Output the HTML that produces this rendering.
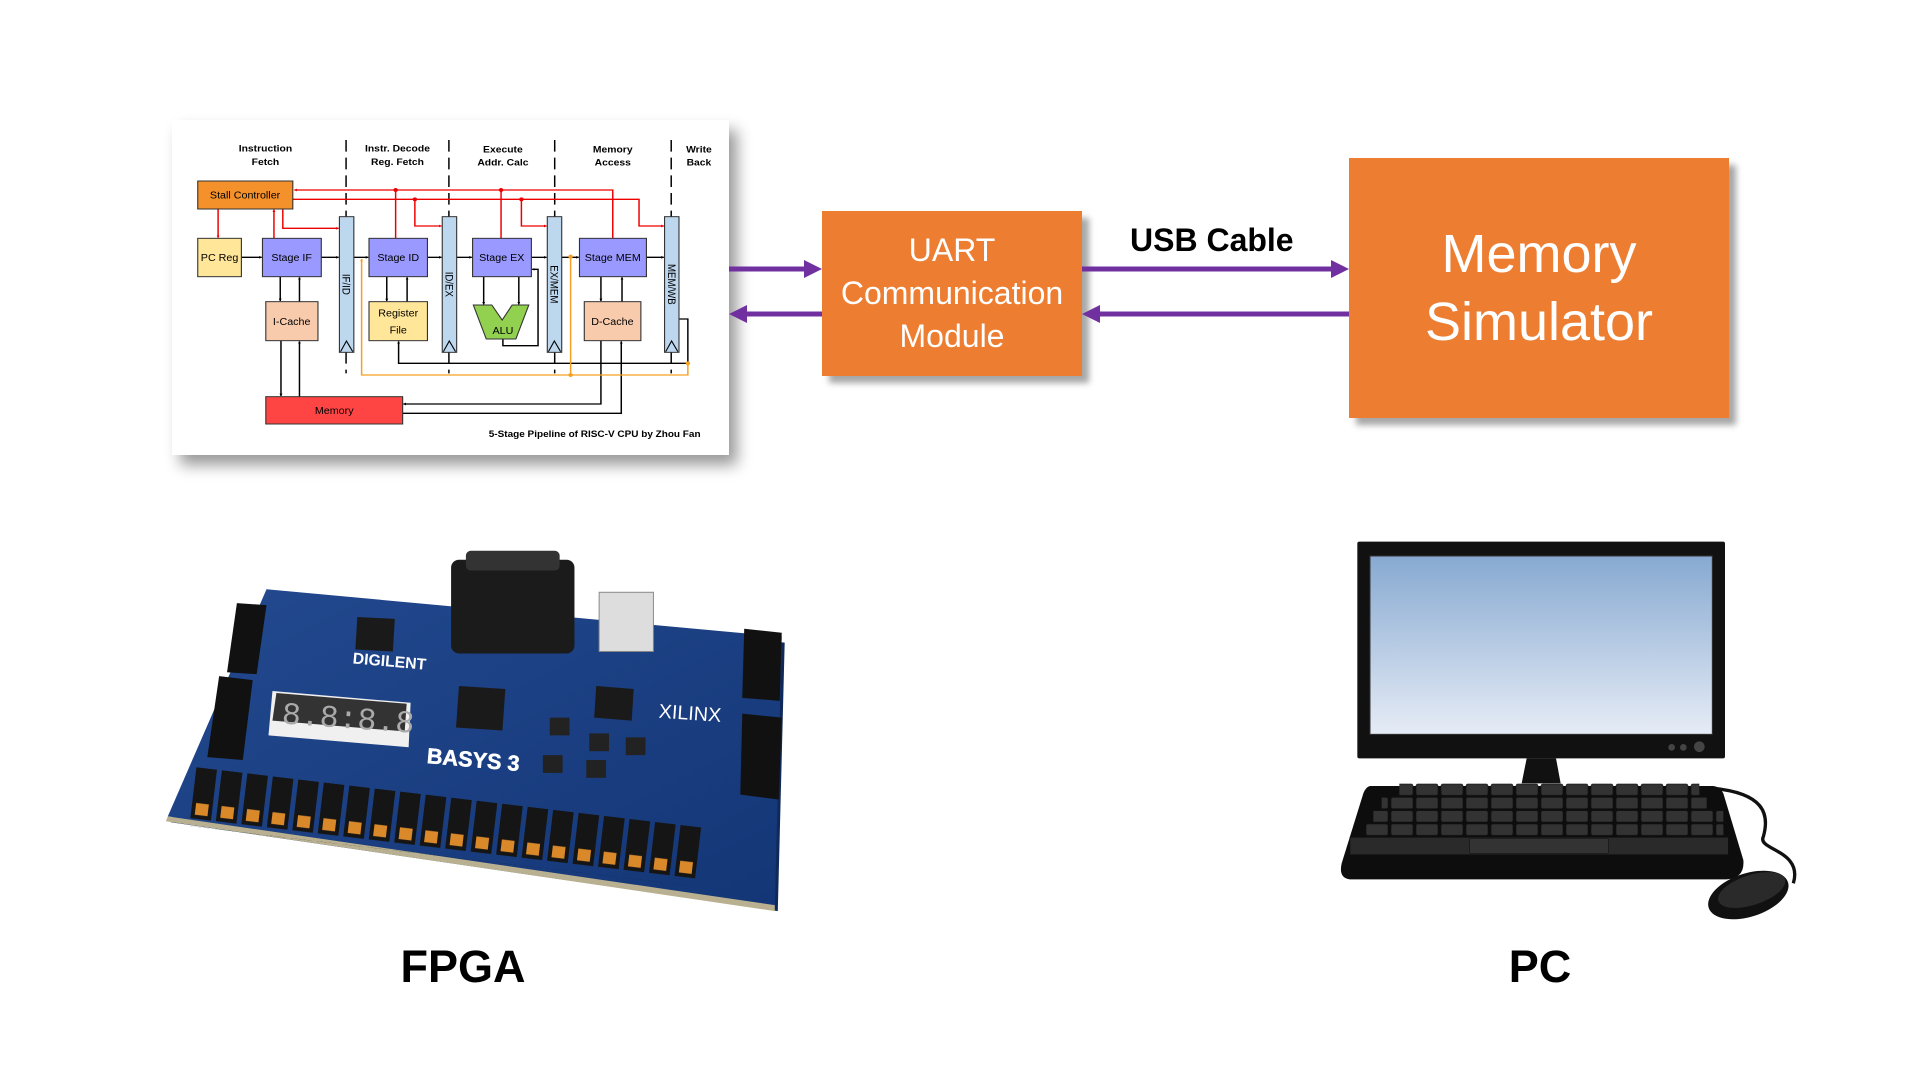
<!DOCTYPE html>
<html><head><meta charset="utf-8"><style>
html,body{margin:0;padding:0;background:#fff;width:1920px;height:1080px;overflow:hidden;font-family:"Liberation Sans",sans-serif}
.abs{position:absolute}
.box{position:absolute;background:#ed7d31;color:#fff;text-align:center;box-shadow:7px 7px 6px rgba(0,0,0,0.35);display:flex;align-items:center;justify-content:center}
.lbl{position:absolute;font-weight:bold;font-size:45px;color:#000;transform:translateX(-50%)}
</style></head><body>

<div class="abs" style="left:172px;top:120px;width:557px;height:335px;background:#fff;box-shadow:8px 10px 14px rgba(0,0,0,0.4)"></div>
<svg class="abs" style="left:170px;top:115px" width="580" height="350" viewBox="0 0 1568 1050" preserveAspectRatio="none" font-family="Liberation Sans, sans-serif">
<defs>
<marker id="ar" markerWidth="8" markerHeight="8" refX="7" refY="4" orient="auto" markerUnits="userSpaceOnUse"><path d="M0,0 L8,4 L0,8z" fill="#e00"/></marker>
<marker id="ab" markerWidth="8" markerHeight="8" refX="7" refY="4" orient="auto" markerUnits="userSpaceOnUse"><path d="M0,0 L8,4 L0,8z" fill="#000"/></marker>
<marker id="ao" markerWidth="8" markerHeight="8" refX="7" refY="4" orient="auto" markerUnits="userSpaceOnUse"><path d="M0,0 L8,4 L0,8z" fill="#f5a020"/></marker>
</defs>
<g font-size="28" font-weight="bold" text-anchor="middle" fill="#000">
<text x="258" y="110">Instruction</text><text x="258" y="150">Fetch</text>
<text x="615" y="110">Instr. Decode</text><text x="615" y="150">Reg. Fetch</text>
<text x="900" y="112">Execute</text><text x="900" y="152">Addr. Calc</text>
<text x="1197" y="112">Memory</text><text x="1197" y="152">Access</text>
<text x="1430" y="112">Write</text><text x="1430" y="152">Back</text>
</g>
<g stroke="#000" stroke-width="4" stroke-dasharray="35,18">
<line x1="476" y1="75" x2="476" y2="775"/><line x1="754" y1="75" x2="754" y2="775"/>
<line x1="1040" y1="75" x2="1040" y2="775"/><line x1="1355" y1="75" x2="1355" y2="775"/>
</g>
<g stroke="#e00" stroke-width="4" fill="none">
<polyline points="1197,370 1197,225 336,225" marker-end="url(#ar)"/>
<line x1="610" y1="370" x2="610" y2="225"/><line x1="895" y1="370" x2="895" y2="225"/>
<polyline points="332,253 1268,253 1268,333 1335,333" marker-end="url(#ar)"/>
<polyline points="662,253 662,333 734,333" marker-end="url(#ar)"/>
<polyline points="950,253 950,333 1018,333" marker-end="url(#ar)"/>
<polyline points="305,282 305,340 456,340" marker-end="url(#ar)"/>
<line x1="130" y1="282" x2="130" y2="368" marker-end="url(#ar)"/>
<line x1="281" y1="370" x2="281" y2="284" marker-end="url(#ar)"/>
</g>
<g fill="#e00"><circle cx="610" cy="225" r="6"/><circle cx="895" cy="225" r="6"/><circle cx="662" cy="253" r="6"/><circle cx="950" cy="253" r="6"/></g>
<g stroke="#000" stroke-width="4" fill="none">
<line x1="193" y1="427" x2="248" y2="427" marker-end="url(#ab)"/>
<line x1="409" y1="427" x2="456" y2="427" marker-end="url(#ab)"/>
<line x1="497" y1="427" x2="536" y2="427" marker-end="url(#ab)"/>
<line x1="696" y1="427" x2="734" y2="427" marker-end="url(#ab)"/>
<line x1="775" y1="427" x2="816" y2="427" marker-end="url(#ab)"/>
<line x1="977" y1="427" x2="1018" y2="427" marker-end="url(#ab)"/>
<line x1="1059" y1="427" x2="1105" y2="427" marker-end="url(#ab)"/>
<line x1="1288" y1="427" x2="1335" y2="427" marker-end="url(#ab)"/>
<line x1="298" y1="485" x2="298" y2="558" marker-end="url(#ab)"/>
<line x1="350" y1="560" x2="350" y2="487" marker-end="url(#ab)"/>
<line x1="586" y1="485" x2="586" y2="558" marker-end="url(#ab)"/>
<line x1="641" y1="560" x2="641" y2="487" marker-end="url(#ab)"/>
<line x1="848" y1="485" x2="848" y2="568" marker-end="url(#ab)"/>
<line x1="943" y1="485" x2="943" y2="568" marker-end="url(#ab)"/>
<polyline points="900,672 900,692 995,692 995,463 979,463" marker-end="url(#ab)"/>
<line x1="1165" y1="485" x2="1165" y2="558" marker-end="url(#ab)"/>
<line x1="1222" y1="560" x2="1222" y2="487" marker-end="url(#ab)"/>
<line x1="300" y1="677" x2="300" y2="843" marker-end="url(#ab)"/>
<line x1="350" y1="845" x2="350" y2="679" marker-end="url(#ab)"/>
<polyline points="1165,677 1165,867 631,867" marker-end="url(#ab)"/>
<polyline points="629,895 1220,895 1220,679" marker-end="url(#ab)"/>
<polyline points="1376,612 1400,612 1400,745 618,745 618,679" marker-end="url(#ab)"/>
</g>
<g stroke="#f5a020" stroke-width="4" fill="none">
<polyline points="1400,745 1400,780 518,780 518,432" marker-end="url(#ao)"/>
<line x1="1083" y1="425" x2="1083" y2="780"/>
</g>
<g fill="#f5a020"><circle cx="1083" cy="425" r="6"/><circle cx="1083" cy="780" r="6"/><circle cx="1400" cy="745" r="6"/></g>
<g stroke="#333" stroke-width="3">
<rect x="75" y="198" width="257" height="84" fill="#f5912b"/>
<rect x="75" y="370" width="118" height="115" fill="#ffe699"/>
<rect x="250" y="370" width="159" height="115" fill="#9999ff"/>
<rect x="538" y="370" width="158" height="115" fill="#9999ff"/>
<rect x="818" y="370" width="159" height="115" fill="#9999ff"/>
<rect x="1107" y="370" width="181" height="115" fill="#9999ff"/>
<rect x="259" y="560" width="141" height="117" fill="#f8cbad"/>
<rect x="538" y="560" width="158" height="117" fill="#ffe699"/>
<rect x="1120" y="560" width="153" height="117" fill="#f8cbad"/>
<rect x="259" y="845" width="370" height="82" fill="#ff4444"/>
<polygon points="820,570 870,570 898,615 925,570 970,570 935,672 855,672" fill="#92d050"/>
<rect x="458" y="305" width="39" height="407" fill="#bdd7ee"/>
<rect x="736" y="305" width="39" height="407" fill="#bdd7ee"/>
<rect x="1020" y="305" width="39" height="407" fill="#bdd7ee"/>
<rect x="1337" y="305" width="39" height="407" fill="#bdd7ee"/>
</g>
<g fill="none" stroke="#000" stroke-width="3">
<polyline points="461,710 477,678 494,710"/><polyline points="739,710 755,678 772,710"/>
<polyline points="1023,710 1039,678 1056,710"/><polyline points="1340,710 1356,678 1373,710"/>
</g>
<g font-size="29" text-anchor="middle" fill="#000">
<text x="203" y="250">Stall Controller</text>
<text x="134" y="438">PC Reg</text>
<text x="329" y="438">Stage IF</text>
<text x="617" y="438">Stage ID</text>
<text x="897" y="438">Stage EX</text>
<text x="1197" y="438">Stage MEM</text>
<text x="329" y="630">I-Cache</text>
<text x="617" y="605">Register</text><text x="617" y="655">File</text>
<text x="1196" y="630">D-Cache</text>
<text x="444" y="897">Memory</text>
<text x="900" y="657">ALU</text>
<text x="1148" y="966" font-weight="bold" font-size="27">5-Stage Pipeline of RISC-V CPU by Zhou Fan</text>
<text transform="translate(467,508) rotate(90)" text-anchor="middle">IF/ID</text>
<text transform="translate(745,508) rotate(90)" text-anchor="middle">ID/EX</text>
<text transform="translate(1029,508) rotate(90)" text-anchor="middle">EX/MEM</text>
<text transform="translate(1346,508) rotate(90)" text-anchor="middle">MEM/WB</text>
</g>
</svg>

<div class="box" style="left:822px;top:211px;width:260px;height:165px;font-size:32px;line-height:43px">UART<br>Communication<br>Module</div>
<div class="box" style="left:1349px;top:158px;width:380px;height:260px;font-size:54px;line-height:68px">Memory<br>Simulator</div>
<div class="abs" style="left:1130px;top:222px;font-size:32px;font-weight:bold">USB Cable</div>

<svg class="abs" style="left:0;top:0" width="1920" height="1080">
<g stroke="#7030a0" stroke-width="5" fill="#7030a0">
<line x1="729" y1="269" x2="808" y2="269"/><polygon points="822,269 804,260 804,278" stroke="none"/>
<line x1="822" y1="314" x2="744" y2="314"/><polygon points="729,314 747,305 747,323" stroke="none"/>
<line x1="1082" y1="269" x2="1335" y2="269"/><polygon points="1349,269 1331,260 1331,278" stroke="none"/>
<line x1="1349" y1="314" x2="1097" y2="314"/><polygon points="1082,314 1100,305 1100,323" stroke="none"/>
</g>
</svg>

<svg class="abs" style="left:0;top:0" width="1920" height="1080">
<defs>
<linearGradient id="pcb" x1="0" y1="0" x2="1" y2="1"><stop offset="0" stop-color="#23498f"/><stop offset="1" stop-color="#133676"/></linearGradient>
<pattern id="sw" width="26" height="60" patternUnits="userSpaceOnUse"><rect x="2" y="0" width="21" height="52" fill="#151515"/><rect x="6" y="36" width="13" height="12" fill="#d9882a"/></pattern>
</defs>
<g transform="translate(2,5) scale(0.987)">
<polygon points="268,592 790,640 783,912 168,822" fill="#0f2a5a" transform="translate(3,6)"/>
<polygon points="268,592 790,640 783,912 168,822" fill="url(#pcb)"/>
<polygon points="168,822 783,912 783,918 166,827" fill="#b8b090"/>
<polygon points="238,606 268,608 258,678 228,676" fill="#111"/>
<polygon points="220,680 254,684 244,765 208,762" fill="#111"/>
<polygon points="752,632 790,636 788,705 750,702" fill="#111"/>
<polygon points="750,718 790,722 787,805 748,800" fill="#111"/>
<rect x="455" y="562" width="125" height="95" rx="8" fill="#1b1b1b"/>
<rect x="470" y="553" width="95" height="20" rx="5" fill="#333"/>
<rect x="605" y="595" width="55" height="60" fill="#ddd" stroke="#888"/>
<polygon points="360,620 398,622 396,655 358,653" fill="#1a1a1a"/>
<polygon points="463,690 510,693 507,735 460,732" fill="#1a1a1a"/>
<polygon points="602,690 640,693 638,725 600,722" fill="#1a1a1a"/>
<polygon points="274,695 414,707 412,752 270,740" fill="#f0f0f0"/>
<polygon points="278,697 410,708 408,736 274,725" fill="#333"/>
<text x="283" y="728" font-family="Liberation Mono,monospace" font-size="32" fill="#aaa" transform="rotate(4 283 728)">8.8:8.8</text>
<text x="430" y="768" font-weight="bold" font-size="22" fill="#fff" stroke="#fff" stroke-width="0.5" transform="rotate(5 430 768)">BASYS 3</text>
<text x="355" y="667" font-weight="bold" font-size="16" fill="#fff" transform="rotate(5 355 667)">DIGILENT</text>
<text x="665" y="722" font-size="20" fill="#fff" transform="rotate(4 665 722)">XILINX</text>
<g fill="#222"><rect x="555" y="722" width="20" height="18"/><rect x="595" y="738" width="20" height="18"/><rect x="632" y="742" width="20" height="18"/><rect x="592" y="765" width="20" height="18"/><rect x="548" y="760" width="20" height="18"/></g>
<g transform="translate(195,772) rotate(6.8)">
<rect x="0" y="0" width="520" height="60" fill="url(#sw)"/>
</g>
</g>
</svg>

<svg class="abs" style="left:1340px;top:530px" width="500" height="410" viewBox="0 0 1500 1230">
<defs>
<linearGradient id="scr" x1="0" y1="0" x2="0" y2="1"><stop offset="0" stop-color="#87a9d1"/><stop offset="1" stop-color="#e6ecf6"/></linearGradient>
<pattern id="key" width="75" height="40" patternUnits="userSpaceOnUse"><rect x="3" y="2" width="66" height="34" rx="6" fill="#333" stroke="#111" stroke-width="2"/></pattern>
</defs>
<rect x="52" y="35" width="1103" height="650" rx="6" fill="#111"/>
<rect x="90" y="78" width="1027" height="535" fill="url(#scr)" stroke="#333" stroke-width="3"/>
<circle cx="995" cy="652" r="10" fill="#444"/><circle cx="1030" cy="652" r="10" fill="#444"/><circle cx="1078" cy="650" r="16" fill="#444"/>
<polygon points="560,685 648,685 662,760 545,760" fill="#111"/>
<path d="M1120,775 C1270,790 1290,850 1270,920 C1250,960 1390,960 1360,1060" fill="none" stroke="#111" stroke-width="10"/>
<path d="M90,768 L1120,768 Q1140,770 1150,790 L1210,990 Q1215,1045 1160,1048 L30,1048 Q-5,1045 5,1000 L70,790 Q78,770 90,768z" fill="#0d0d0d"/>
<rect x="178" y="758" width="900" height="40" fill="url(#key)"/>
<rect x="125" y="798" width="975" height="40" fill="url(#key)"/>
<rect x="100" y="838" width="1050" height="40" fill="url(#key)"/>
<rect x="70" y="878" width="1080" height="40" fill="url(#key)"/>
<rect x="30" y="922" width="1135" height="52" fill="#2a2a2a" stroke="#111" stroke-width="2"/>
<rect x="388" y="925" width="418" height="46" rx="6" fill="#333" stroke="#111" stroke-width="2"/>
<ellipse cx="1225" cy="1095" rx="125" ry="65" transform="rotate(-18 1225 1095)" fill="#111"/>
<ellipse cx="1235" cy="1080" rx="105" ry="45" transform="rotate(-18 1235 1080)" fill="#2a2a2a"/>
</svg>

<div class="lbl" style="left:463px;top:941px">FPGA</div>
<div class="lbl" style="left:1540px;top:941px">PC</div>
</body></html>
